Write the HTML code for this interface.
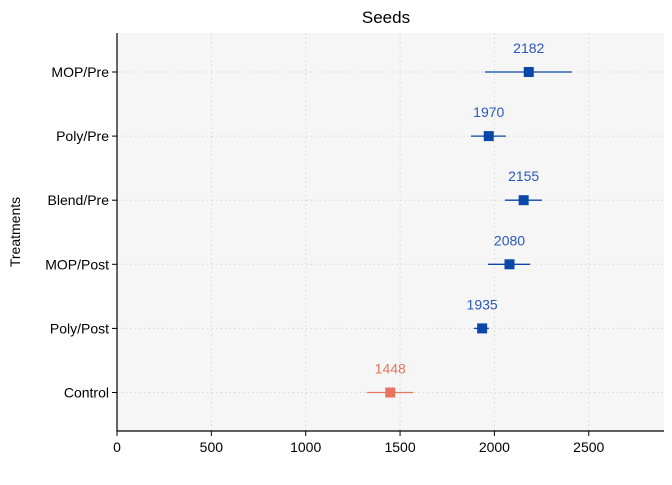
<!DOCTYPE html>
<html><head><meta charset="utf-8"><style>
body{margin:0;background:#fff;font-family:"Liberation Sans",sans-serif}
</style></head><body>
<svg id="chart" width="672" height="480" xmlns="http://www.w3.org/2000/svg" font-family="Liberation Sans, sans-serif">
<rect x="117" y="33" width="547" height="398" fill="#f6f6f6"/>
<g id="grid"></g><g id="marks"></g><g id="axes"></g>
<text x="386" y="23" text-anchor="middle" font-size="17">Seeds</text>
<text x="20" y="232" text-anchor="middle" font-size="14" transform="rotate(-90 20 232)">Treatments</text>
</svg>
<script>
const categories=["MOP/Pre","Poly/Pre","Blend/Pre","MOP/Post","Poly/Post","Control"];
const means=[2182,1970,2155,2080,1935,1448];
const lower=[1950,1876,2056,1966,1892,1325];
const upper=[2411,2061,2252,2189,1971,1569];
const xTicks=[0,500,1000,1500,2000,2500];
const NS="http://www.w3.org/2000/svg";
const x=v=>117+v*0.1887;
const y=i=>72+i*64.1;
function mk(t,a,p){const e=document.createElementNS(NS,t);for(const k in a)e.setAttribute(k,a[k]);p.appendChild(e);return e;}
const grid=document.getElementById('grid'),marks=document.getElementById('marks'),axes=document.getElementById('axes');
xTicks.forEach(t=>{
 const g=mk('line',{x1:x(t),x2:x(t),y1:33,y2:431,stroke:'#d6d6d6','stroke-dasharray':'1.5 3'},grid);
 
 
 const tk=mk('line',{x1:x(t),x2:x(t),y1:431,y2:436,stroke:'#000'},axes);
 
 
 const l=mk('text',{x:x(t),y:452,'text-anchor':'middle','font-size':14},axes);
 l.textContent=t;
 
 
});
categories.forEach((c,i)=>{
 const g=mk('line',{x1:117,x2:664,y1:y(i),y2:y(i),stroke:'#d6d6d6','stroke-dasharray':'1.5 3'},grid);
 
 
 const tk=mk('line',{x1:112,x2:117,y1:y(i),y2:y(i),stroke:'#000'},axes);
 
 
 const l=mk('text',{x:109,y:y(i)+5,'text-anchor':'end','font-size':14},axes);
 l.textContent=c;
 
 
 const col=c==="Control"?"#e8735f":"#0a47a8";
 const tc=c==="Control"?"#e8735f":"#2a58bb";
 const eb=mk('line',{x1:x(lower[i]),x2:x(upper[i]),y1:y(i),y2:y(i),stroke:col,'stroke-width':1.3},marks);
 
 
 const p=mk('rect',{x:x(means[i])-5,y:y(i)-5,width:10,height:10,fill:col},marks);
 
 
 const v=mk('text',{x:x(means[i]),y:y(i)-19,'text-anchor':'middle','font-size':14,fill:tc},marks);
 v.textContent=means[i];
 
 
});
const ax=mk('path',{d:'M117 33 V431 H664',fill:'none',stroke:'#000','stroke-width':1.2},axes);


</script>
</body></html>
